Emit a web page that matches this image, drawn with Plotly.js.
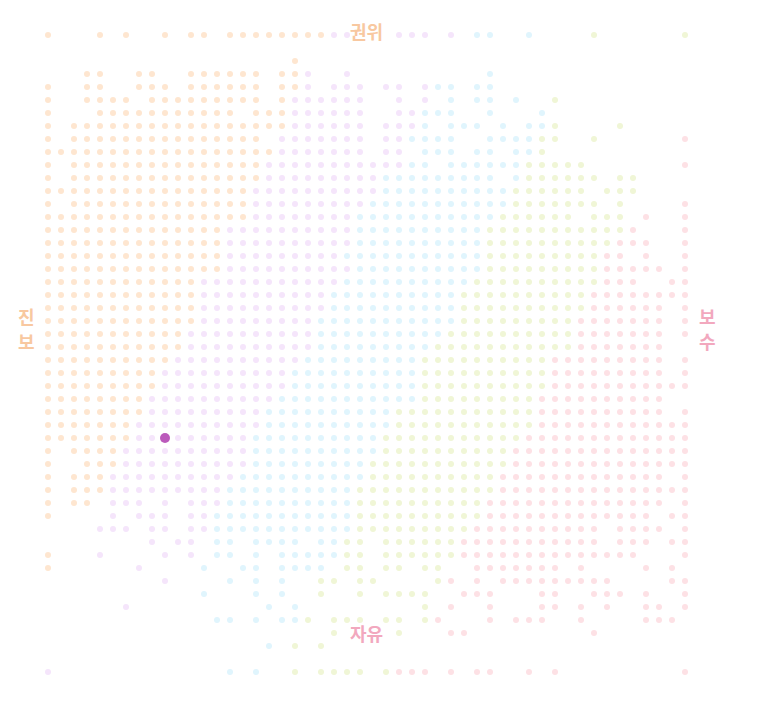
<!DOCTYPE html>
<html>
<head>
<meta charset="utf-8">
<script src="https://cdn.plot.ly/plotly-3.0.1.min.js"></script>
<style>html,body{margin:0;padding:0;background:#fff;}#chart{width:763px;height:713px;}</style>
</head>
<body>
<div id="chart"></div>
<script>
// Grid of cells, 50 rows x 50 columns, each row given as five 10-column segments.
// o / v / b / g / p = zone of the cell (진보·권위 side ... 보수·자유 side), . = empty
const rowSegments = [
["o...o.o..o",".oo.oooooo","oovv...vvv",".v.bb..b..","..g......g"],
["..........","..........","..........","..........",".........."],
["..........",".........o","..........","..........",".........."],
["...oo..oo.",".oooooo.oo","v..v......","....b.....",".........."],
["o..oo..ooo",".oooooo.oo","v.vvv.vv.v","bb.bb.....",".........."],
["o..oooo.oo","ooooooo.ov","vvvvv..v.v",".b.bb.b..g",".........."],
["o...oooooo","ooooo.ooov","vvvvv..vvb","bb..b...b.",".........."],
["o.oooooooo","ooooooooov","vvvvv.vvvb",".bbb.b.bbg","....g....."],
["o.oooooooo","ooooooo.vv","vvvvv.vvbb","bb..bbbbgg","..g......p"],
["oooooooooo","oooooooovv","vvvvv.vv.b","bb.bb.bbg.",".........."],
["o.oooooooo","ooooooovvv","vvvvvvvvbb",".bbbbbbggg","gg.......p"],
["o.oooooooo","ooooooovvv","vvvvvvbbbb","bbbbb.bggg","ggg.gg...."],
["oooooooooo","oooooovvvv","vvvvvvbbbb","bbbbbbgggg","gg.ggg...."],
["o.oooooooo","oooooovvvv","vvvvvbbbbb","bbbbbbgggg","ggg.g....p"],
["oooooooooo","oooooovvvv","vvvvbbbbbb","bbbbbggggg","g.ggg.p..p"],
["oooooooooo","oooovvvvvv","vvvvbbbbbb","bbbbgggggg","gggggp...p"],
["oooooooooo","oooovvvvvv","vvvvbbbbbb","bbbbgggggg","ggggppp..p"],
["oooooooooo","oooovvvvvv","vvvbbbbbbb","bbbbgggggg","gggpp.p..p"],
["oooooooooo","oooovvvvvv","vvvvbbbbbb","bbbbgggggg","gggppppp.p"],
["oooooooooo","oovvvvvvvv","vvvbbbbbbb","bbbggggggg","gggppp..pp"],
["oooooooooo","oovvvvvvvv","vvbbbbbbbb","bbgggggggg","ggpppppppp"],
["oooooooooo","oovvvvvvvv","vvbbbbbbbb","bbgggggggg","ggpppppp.p"],
["oooooooooo","oovvvvvvvv","vbbbbbbbbb","bbgggggggg","gppppppp.p"],
["oooooooooo","ovvvvvvvvv","vbbbbbbbbb","bggggggggg","gppppppp.p"],
["oooooooooo","ovvvvvvvvv","vbbbbbbbbb","gggggggggg","gppppppp.."],
["oooooooooo","vvvvvvvvvv","bbbbbbbbbg","gggggggggp","pppppppp.p"],
["ooooooooov","vvvvvvvvvb","bbbbbbbbbg","gggggggggp","pppppppp.p"],
["ooooooooov","vvvvvvvvvb","bbbbbbbbbg","gggggggggp","pppppppppp"],
["oooooooovv","vvvvvvvvbb","bbbbbbbbbg","ggggggggpp","pppppppp.."],
["oooooooovv","vvvvvvvbbb","bbbbbbbggg","ggggggggpp","pppppppp.p"],
["ooooooovvv","vvvvvvvbbb","bbbbbbbggg","ggggggggpp","pppppppppp"],
["ooooooovvv","vvvvvvbbbb","bbbbbbgggg","gggggggppp","pppppppppp"],
["o.oooovvvv","vvvvvvbbbb","bbbbbbgggg","ggggggpppp","pppppppppp"],
["o..ooovvvv","vvvvvvbbbb","bbbbbggggg","ggggggpppp","pppppppppp"],
["o.ooovvvvv","vvvvvbbbbb","bbbbbggggg","gggggppppp","pppppppp.p"],
["o.ooovvvvv","vvvvbbbbbb","bbbbgggggg","gggggppppp","pppppppppp"],
["o.oo.vvv.v",".vvvbbbbbb","bbbbgggggg","ggggpppppp","pppppppp.p"],
["o....v.vvv",".vvbbbbbbb","bbbbgggggg","ggggpppppp","ppppppp.pp"],
["....vvv.vv",".vvbbbbbbb","bbbbgggggg","gggppppppp","ppp.pppp.p"],
["........v.","vv.bb.bbbb",".bbgg.gggg","ggpppppppp","ppp.ppp.pp"],
["o...v....v",".v.bb.b.bb","bbbgg.gggg","ggpppppppp","pppppp...p"],
["o......v..","..b..bb.bb","bb.gg.gg.g","g..ppppppp",".p....p.p."],
[".........v","....b.b.b.",".gg.gg....","gp.p.ppppp","pppp....pp"],
["..........","..b...b.b.",".g..g.gggg","..ppp...pp","..ppp.p..p"],
["......v...",".......b.b",".........g",".p..p...pp",".p.p..pp.p"],
["..........","...bb.b.bb","g.ggg.gg.g","p...p.ppp.",".p....ppp."],
["..........","..........","..g....g..",".pp.......","..p......."],
["..........",".......b.g",".g........","..........",".........."],
["..........","..........","..........","..........",".........."],
["v.........","....b.b..g",".gggg.gppp",".p.pp..p.p",".........p"]
];
// highlighted respondent (column, row)
const highlightCol = [9];
const highlightRow = [31];

const zoneKeys = ["o", "v", "b", "g", "p"];
const zoneColors = ["#fee6d0", "#f5e5fb", "#e0f5fd", "#f0f6d6", "#fde1e5"];

const rows = rowSegments.map(s => s.join(""));
const traces = zoneKeys.map((k, i) => {
  const xs = [], ys = [];
  rows.forEach((row, r) => {
    for (let c = 0; c < row.length; c++) {
      if (row[c] === k) { xs.push(c); ys.push(r); }
    }
  });
  return {
    type: "scatter", mode: "markers", x: xs, y: ys,
    marker: {size: 6, color: zoneColors[i], line: {width: 0}},
    hoverinfo: "skip", showlegend: false
  };
});
traces.push({
  type: "scatter", mode: "markers", x: highlightCol, y: highlightRow,
  marker: {size: 10, color: "#bb5abb", line: {width: 0}},
  hoverinfo: "skip", showlegend: false
});

const orange = "#f8c8a0";
const pink = "#f2a8be";
const lf = (c) => ({family: "Noto Sans CJK KR, sans-serif", size: 18, color: c, weight: 700});
const ann = (t, x, y, c) => ({text: t, xref: "paper", yref: "paper", x: x/763, y: 1 - y/713,
  showarrow: false, font: lf(c), xanchor: "center", yanchor: "middle"});

const layout = {
  width: 763, height: 713,
  margin: {l: 0, r: 0, t: 0, b: 0},
  paper_bgcolor: "#ffffff", plot_bgcolor: "#ffffff",
  xaxis: {range: [-48/13, 55], visible: false, fixedrange: true},
  yaxis: {range: [52.154, -2.6923], visible: false, fixedrange: true},
  showlegend: false,
  annotations: [
    ann("권위", 366, 31, orange),
    ann("자유", 366, 633, pink),
    ann("진", 26, 316, orange),
    ann("보", 26, 341, orange),
    ann("보", 707, 316, pink),
    ann("수", 707, 341, pink)
  ]
};

Plotly.newPlot("chart", traces, layout, {staticPlot: true, displayModeBar: false});
</script>
</body>
</html>
